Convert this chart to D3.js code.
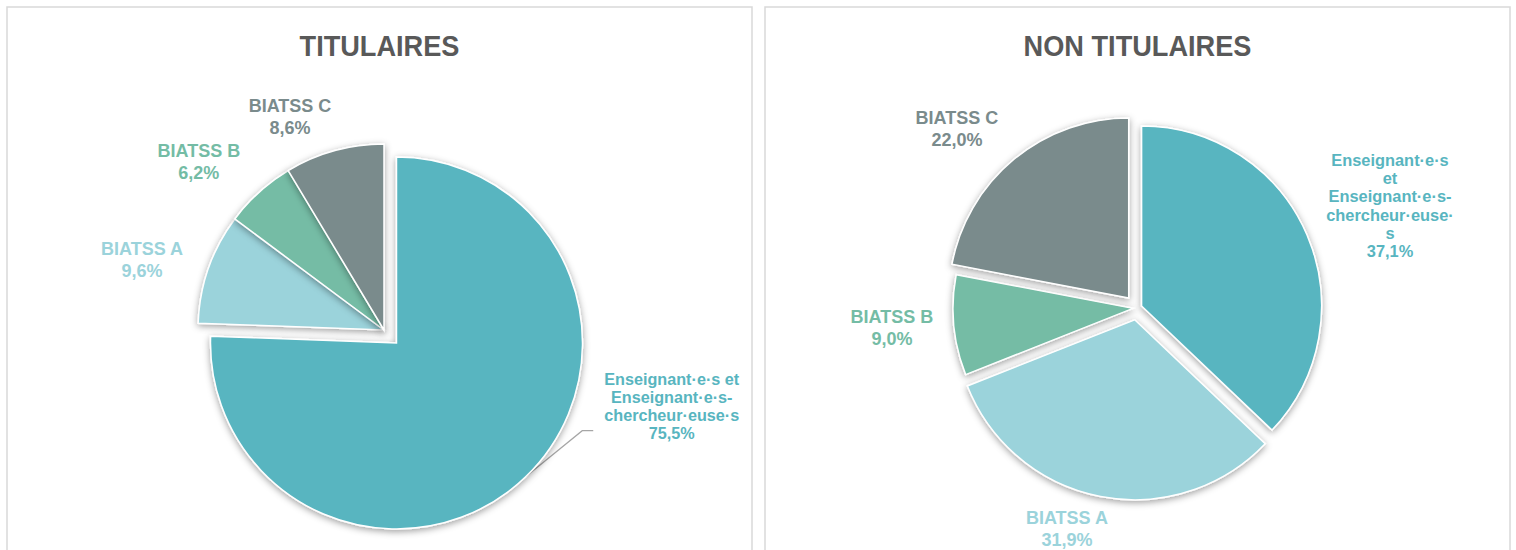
<!DOCTYPE html>
<html lang="fr">
<head>
<meta charset="utf-8">
<script src="https://cdn.jsdelivr.net/npm/d3@7"></script>
<style>
  html, body { margin: 0; padding: 0; background: #fff; }
  svg { display: block; font-family: "Liberation Sans", Arial, sans-serif; }
</style>
</head>
<body>
<svg id="chart" width="1516" height="550"></svg>
<script>
// Répartition des effectifs par catégorie de personnel (en %)
const categories = ["Enseignant·e·s et Enseignant·e·s-chercheur·euse·s", "BIATSS A", "BIATSS B", "BIATSS C"];
const titulairesValues = [75.5, 9.6, 6.2, 8.6];
const nonTitulairesValues = [37.1, 31.9, 9.0, 22.0];
const chartTitles = ["TITULAIRES", "NON TITULAIRES"];
// Libellés des catégories, découpés en lignes pour chaque graphique
const titulairesLabelLines = [["Enseignant·e·s et", "Enseignant·e·s-", "chercheur·euse·s"], ["BIATSS A"], ["BIATSS B"], ["BIATSS C"]];
const nonTitulairesLabelLines = [["Enseignant·e·s", "et", "Enseignant·e·s-", "chercheur·euse·", "s"], ["BIATSS A"], ["BIATSS B"], ["BIATSS C"]];

const colors = ["#58B5C0", "#9BD3DB", "#74BCA5", "#7A8B8C"];
const formatPct = v => d3.format(".1f")(v).replace(".", ",") + "%";

// Mise en page de chaque panneau : cadre, centre, rayon, éclatement des parts,
// position des étiquettes (angle en degrés, distance en multiple du rayon).
const panels = [
  {
    title: chartTitles[0], values: titulairesValues, lines: titulairesLabelLines,
    frame: [7, 7, 745], cx: 384, cy: 330, r: 186,
    explode: [18, 0, 0, 0],
    labelPos: [[104.8, 1.60], [286.1, 1.354], [312.2, 1.344], [336.2, 1.252]],
    leader: [true, false, false, false],
    fontSizes: [16.2, 18, 18, 18], lineH: [18, 22, 22, 22]
  },
  {
    title: chartTitles[1], values: nonTitulairesValues, lines: nonTitulairesLabelLines,
    frame: [765, 7, 745], cx: 1137, cy: 308, r: 180,
    explode: [5, 12, 4, 13],
    labelPos: [[68.0, 1.516], [197.6, 1.288], [265.3, 1.366], [314.8, 1.41]],
    leader: [false, false, false, false],
    fontSizes: [16.4, 18, 18, 18], lineH: [18.3, 22, 22, 22]
  }
];

const svg = d3.select("#chart");

// Ombre portée douce sous les parts
const defs = svg.append("defs");
const f = defs.append("filter").attr("id", "shadow")
  .attr("x", "-20%").attr("y", "-20%").attr("width", "140%").attr("height", "140%");
f.append("feDropShadow").attr("dx", 0).attr("dy", 2).attr("stdDeviation", 3.5)
  .attr("flood-color", "#000").attr("flood-opacity", 0.38);

const pie = d3.pie().sort(null).value(d => d);

panels.forEach(p => {
  const g = svg.append("g");
  const [fx, fy, fw] = p.frame;

  g.append("rect")
    .attr("x", fx).attr("y", fy).attr("width", fw).attr("height", 600)
    .attr("fill", "#fff").attr("stroke", "#D9D9D9").attr("stroke-width", 1.5);

  // Titre légèrement étiré en hauteur
  const tx = fx + fw / 2, ty = 56;
  g.append("text")
    .attr("transform", `translate(${tx},${ty}) scale(0.97,1.08)`)
    .attr("text-anchor", "middle")
    .attr("font-size", 28).attr("font-weight", "bold")
    .attr("fill", "#595959")
    .text(p.title);

  const arc = d3.arc().innerRadius(0).outerRadius(p.r);
  const arcs = pie(p.values);

  const offset = (d, i) => {
    const a = (d.startAngle + d.endAngle) / 2;
    return [Math.sin(a) * p.explode[i], -Math.cos(a) * p.explode[i]];
  };

  g.append("g").selectAll("path")
    .data(arcs)
    .join("path")
    .attr("transform", (d, i) => {
      const [ox, oy] = offset(d, i);
      return `translate(${p.cx + ox},${p.cy + oy})`;
    })
    .attr("d", arc)
    .attr("fill", (d, i) => colors[i])
    .attr("stroke", "#fff").attr("stroke-width", 1.5)
    .attr("filter", "url(#shadow)");

  arcs.forEach((d, i) => {
    const [ang, k] = p.labelPos[i];
    const [lx, ly] = d3.pointRadial(ang * Math.PI / 180, k * p.r);
    const lines = p.lines[i].concat([formatPct(d.data)]);
    const fs = p.fontSizes[i], lh = p.lineH[i];
    const top = p.cy + ly - (lines.length - 1) * lh / 2;
    const t = g.append("text")
      .attr("text-anchor", "middle")
      .attr("font-size", fs).attr("font-weight", "bold")
      .attr("fill", colors[i]);
    lines.forEach((line, j) => {
      t.append("tspan")
        .attr("x", p.cx + lx)
        .attr("y", top + j * lh + fs * 0.35)
        .text(line);
    });

    if (p.leader[i]) {
      const bb = t.node().getBBox();
      const a = (d.startAngle + d.endAngle) / 2;
      const [ox, oy] = offset(d, i);
      const [sx, sy] = d3.pointRadial(a, p.r);
      const ex = bb.x - 11, ey = bb.y + bb.height - 11;
      g.insert("path", "text")
        .attr("d", d3.line()([[p.cx + ox + sx, p.cy + oy + sy], [ex - 11, ey], [ex, ey]]))
        .attr("fill", "none").attr("stroke", "#A6A6A6").attr("stroke-width", 1.2);
    }
  });
});
</script>
</body>
</html>
